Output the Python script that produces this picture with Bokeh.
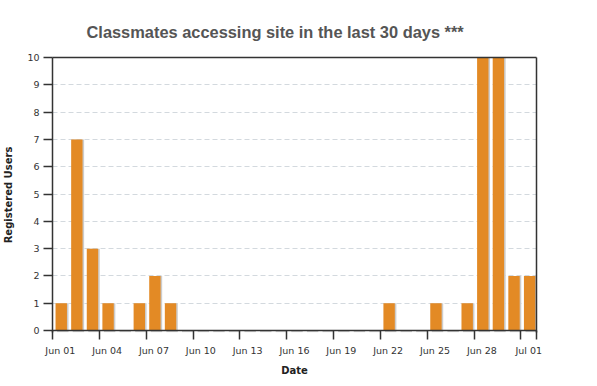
import pandas as pd
from bokeh.plotting import figure
from bokeh.models import Range1d, FixedTicker, LinearAxis, ColumnDataSource, Span
from bokeh.embed import file_html
from bokeh.resources import INLINE

# ---- data ----
dates = pd.date_range("2013-06-01", periods=31, freq="D")
users = [1, 7, 3, 1, 0, 1, 2, 1, 0, 0, 0, 0, 0, 0, 0, 0, 0, 0, 0, 0, 0,
         1, 0, 0, 1, 0, 1, 10, 10, 2, 2]
tick_days = [0, 3, 6, 9, 12, 15, 18, 21, 24, 27, 30]
tick_labels = ["Jun 01", "Jun 04", "Jun 07", "Jun 10", "Jun 13", "Jun 16",
               "Jun 19", "Jun 22", "Jun 25", "Jun 28", "Jul 01"]
y_ticks = list(range(0, 11))

day_index = [(d - dates[0]).days for d in dates]
n_days = len(dates)

BAR_OFF = 0.56      # bar centre inside a day
BAR_W = 0.73
SH_DX = 0.10        # shadow offset (days)
SH_DY = 0.06        # shadow offset (users)
LBL_OFF = 0.5       # tick labels sit at the middle of the day

src = ColumnDataSource(dict(
    x=[d + BAR_OFF for d in day_index],
    xs=[d + BAR_OFF + SH_DX for d in day_index],
    top=users,
))

p = figure(width=595, height=384,
           x_range=Range1d(0, n_days), y_range=Range1d(-0.07, 10),
           output_backend="svg", toolbar_location=None,
           min_border_left=50, min_border_right=59,
           min_border_top=57, min_border_bottom=52)
p.outline_line_color = None
p.background_fill_color = "white"
p.border_fill_color = "white"

p.title.text = "Classmates accessing site in the last 30 days ***"
p.title.text_font = "Liberation Sans"
p.title.text_font_size = "16.4px"
p.title.text_font_style = "bold"
p.title.text_color = "#555555"
p.title.align = "left"
p.title.offset = 34
p.title.standoff = 33

# shadows then bars
p.vbar(x="xs", width=BAR_W, top="top", bottom=-SH_DY, source=src,
       fill_color="#cccccc", line_color=None)
p.vbar(x="x", width=BAR_W, top="top", bottom=0, source=src,
       fill_color="#E38A25", line_color=None)

p.add_layout(Span(location=0, dimension="width", line_color="#333333",
                  line_width=1.5))

# y axis
ya = p.yaxis[0]
ya.ticker = FixedTicker(ticks=y_ticks)
ya.axis_line_color = "#333333"
ya.axis_line_width = 1.5
ya.major_tick_line_color = "#333333"
ya.major_tick_line_width = 1.5
ya.major_tick_out = 9
ya.major_tick_in = 0
ya.minor_tick_line_color = None
ya.major_label_text_font = "DejaVu Sans"
ya.major_label_text_font_size = "9.5px"
ya.major_label_text_color = "#333333"
ya.major_label_standoff = 4
ya.axis_label = "Registered Users"
ya.axis_label_text_font = "DejaVu Sans"
ya.axis_label_text_font_size = "10px"
ya.axis_label_text_font_style = "bold"
ya.axis_label_text_color = "#222222"
ya.axis_label_standoff = 10

# x axis: labels centred on the day, tick marks (minor) at day boundaries
label_pos = [d + LBL_OFF for d in tick_days]
xa = p.xaxis[0]
xa.ticker = FixedTicker(ticks=label_pos, minor_ticks=tick_days + [n_days])
xa.major_label_overrides = {pos: l for pos, l in zip(label_pos, tick_labels)}
xa.axis_line_color = None
xa.major_tick_line_color = None
xa.major_tick_out = 7
xa.major_tick_in = 0
xa.minor_tick_line_color = "#333333"
xa.minor_tick_line_width = 1.5
xa.minor_tick_in = 2
xa.minor_tick_out = 7
xa.major_label_text_font = "DejaVu Sans"
xa.major_label_text_font_size = "9.5px"
xa.major_label_text_color = "#333333"
xa.major_label_standoff = 5
xa.axis_label = "Date"
xa.axis_label_text_font = "DejaVu Sans"
xa.axis_label_text_font_size = "10px"
xa.axis_label_text_font_style = "bold"
xa.axis_label_text_color = "#222222"
xa.axis_label_standoff = 6

for loc in ("right", "above"):
    ax = LinearAxis(ticker=FixedTicker(ticks=[]))
    ax.axis_line_color = "#333333"
    ax.axis_line_width = 1.5
    ax.major_tick_line_color = None
    ax.minor_tick_line_color = None
    p.add_layout(ax, loc)

p.xgrid.visible = False
p.ygrid.ticker = FixedTicker(ticks=y_ticks)
p.ygrid.grid_line_color = "#d3d9de"
p.ygrid.grid_line_dash = "5 3"
p.ygrid.grid_line_width = 1

open("out.html", "w").write(file_html(p, INLINE))
